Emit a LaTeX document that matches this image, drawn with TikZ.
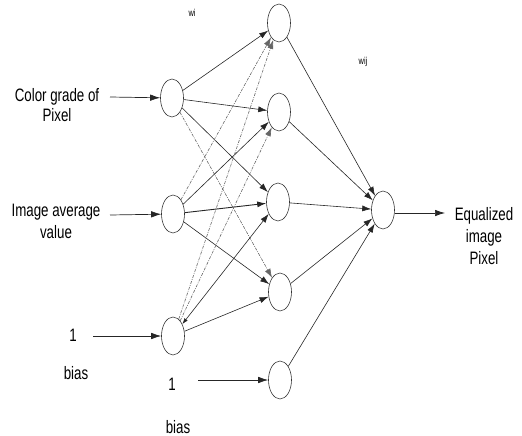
\documentclass[tikz,border=0pt]{standalone}
\usepackage{fontspec}
\setmainfont[FakeStretch=0.74]{Liberation Sans}
\usetikzlibrary{shapes.geometric,arrows.meta}
\begin{document}
\begin{tikzpicture}[x=1pt,y=-1pt,
  neuron/.style={ellipse,draw=black!80,line width=0.6pt,minimum width=23pt,minimum height=38pt,inner sep=0pt},
  lbl/.style={font=\fontsize{18}{22}\selectfont,align=center,inner sep=0pt},
  wlbl/.style={font=\fontsize{10}{11}\selectfont,inner sep=0pt},
  wire/.style={line width=0.6pt,draw=black!85,-{Latex[length=9pt,width=6pt]}},
  twire/.style={wire,{Latex[length=6pt,width=4pt]}-{Latex[length=9pt,width=6pt]}},
  dwire/.style={wire,draw=black!60,dash pattern=on 3pt off 1.2pt on 0.8pt off 1.2pt},
  inwire/.style={line width=0.7pt,draw=black!85,-{Latex[length=10pt,width=6.5pt]}}
]
\useasboundingbox (0,0) rectangle (522,436);

% neurons
\node[neuron] (in1) at (172,98) {};
\node[neuron] (in2) at (173,214) {};
\node[neuron] (in3) at (173,336) {};
\node[neuron] (h1) at (279,23) {};
\node[neuron] (h2) at (279,112) {};
\node[neuron] (h3) at (278,202) {};
\node[neuron] (h4) at (280,292) {};
\node[neuron] (h5) at (280,380) {};
\node[neuron] (out) at (383,210) {};

% labels
\node[lbl] (l1) at (57,105) {Color grade of\\[-2pt]Pixel};
\node[lbl] (l2) at (56,221) {Image average\\value};
\node[lbl] (l3) at (73,335) {1};
\node[lbl] (b1) at (76,373) {bias};
\node[lbl] (l4) at (172,384) {1};
\node[lbl] (b2) at (178,427) {bias};
\node[lbl] (lo) at (484,236) {Equalized\\image\\Pixel};
\node[wlbl] (wi) at (192,13) {wi};
\node[wlbl] (wij) at (363,62) {wij};

% input arrows
\coordinate (a1) at (110,97);
\coordinate (a2) at (110,215);
\coordinate (a3) at (93,336);
\coordinate (a4) at (198,380);
\coordinate (ao) at (445,213);
\draw[inwire] (a1) -- (in1);
\draw[inwire] (a2) -- (in2);
\draw[inwire] (a3) -- (in3);
\draw[inwire] (a4) -- (h5);
\draw[inwire] (out.east |- ao) -- (ao);

% input -> hidden
\draw[wire] (in1) -- (h1);
\draw[wire] (in1) -- (h2);
\draw[wire] (in1) -- (h3);
\draw[dwire] (in1) -- (h4);
\draw[dwire] (in2) -- (h1);
\draw[wire] (in2) -- (h2);
\draw[wire,line width=0.9pt] (in2) -- (h3);
\draw[wire] (in2) -- (h4);
\draw[dwire] (in3) -- (h1);
\draw[dwire] (in3) -- (h2);
\draw[twire] (in3) -- (h3);
\draw[wire] (in3) -- (h4);

% hidden -> output
\draw[wire] (h1) -- (out);
\draw[wire] (h2) -- (out);
\draw[wire] (h3) -- (out);
\draw[wire] (h4) -- (out);
\draw[wire] (h5) -- (out);
\end{tikzpicture}
\end{document}
